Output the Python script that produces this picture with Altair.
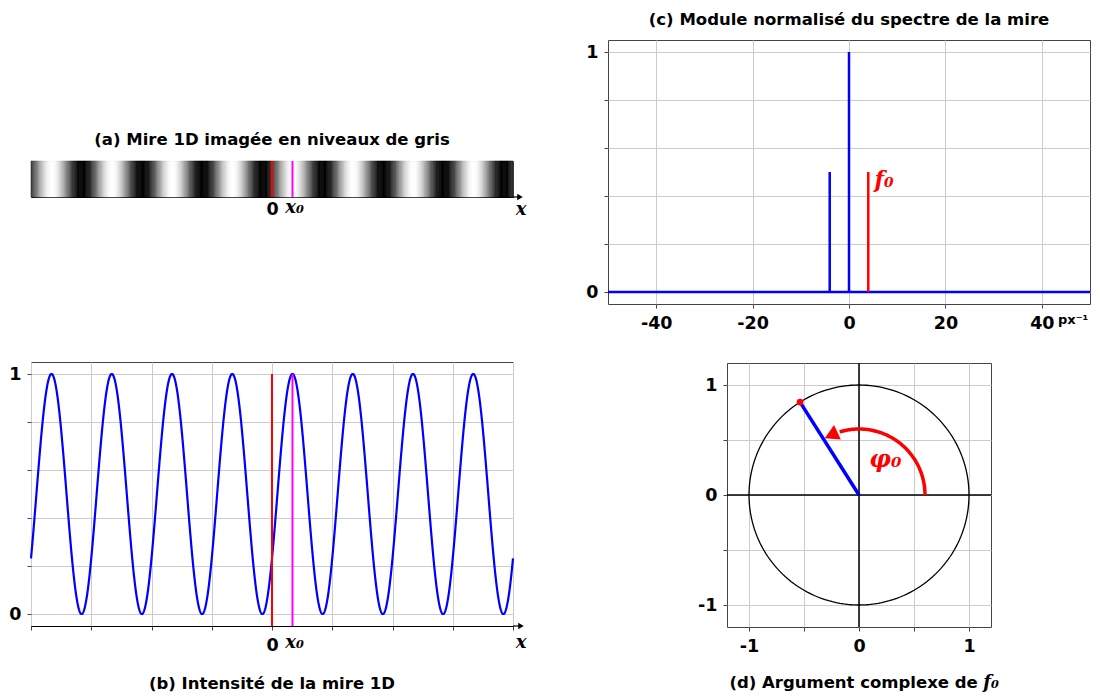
import altair as alt
import pandas as pd

# ---------------- values ----------------
# (a)/(b) 1D sinusoidal test pattern, abscissa in grid units (8 periods visible)
X_MIN, X_MAX = -4, 4
PERIOD = [1.0]
X0 = [0.34]                       # first maximum right of the origin
GRID_X = [-4, -3, -2, -1, 0, 1, 2, 3, 4]
GRID_I = [0, 0.2, 0.4, 0.6, 0.8, 1]
MARK_X = [0.0, 0.34]              # 0 and x0
MARK_COL = ["#ff0000", "#ff00ff"]

# (c) normalised modulus of the spectrum
FREQ = [-4, 0, 4]
AMP = [0.5, 1.0, 0.5]
FREQ_COL = ["#0000ff", "#0000ff", "#ff0000"]
FREQ_TICKS = [-40, -20, 0, 20, 40]
F_MIN, F_MAX = -50, 50
F0_LABEL_POS = [5.3, 0.466]

# (d) complex argument of f0
PHI0_DEG = [122.4]
ARC_R = [0.6]
ARC_END_DEG = [107]
ARROW_DEG = [115]
D_TICKS = [-1, -0.5, 0, 0.5, 1]
D_MIN, D_MAX = -1.2, 1.2
PHI_LABEL_POS = [0.24, 0.32]

# ---------------- style ----------------
BLUE, RED = "#0000ff", "#ff0000"
FONT, MATH = "DejaVu Sans", "DejaVu Serif"
FRAME, GRID = "#444444", "#cccccc"
W, H, H_A, W_D = 482, 264, 36, 264
TITLE_SIZE, LABEL_SIZE = 16.5, 17.5

SP_TOP, SP_AB, SP_CD, SP_LR, W_SP = 90, 141, 29, 58, 88

INTENSITY = f"0.5 + 0.5*cos(2*PI*(datum.x - {X0[0]})/{PERIOD[0]})"


def lab_expr(vals):
    conds = " : ".join([f"datum.value=={v} ? '{v}'" for v in vals])
    return conds + " : ''"


def math_text(**kw):
    base = dict(font=MATH, fontStyle="italic", fontWeight="bold", fontSize=18)
    base.update(kw)
    return base


# ---------------- (a) ----------------
xa = alt.Scale(domain=[X_MIN, X_MAX], nice=False, zero=False)
ya = alt.Scale(domain=[0, 1], nice=False, zero=False)
gray = alt.Scale(domain=[0, 1], range=["black", "white"], interpolate="rgb")
AX_A = alt.Axis(values=[0], labelExpr="'0'", ticks=False, grid=False, domain=True,
                domainColor="black", domainWidth=1.2, labelPadding=3, title=None)


def XA(f):
    return alt.X(f, type="quantitative", scale=xa, axis=AX_A)


def YA(f):
    return alt.Y(f, type="quantitative", scale=ya, axis=None)


a_strip = alt.Chart(alt.sequence(X_MIN, X_MAX, 0.02, as_="x")).transform_calculate(
    x2="datum.x + 0.02", y0="0", y1="1", I=INTENSITY
).mark_rect(strokeWidth=0.6).encode(
    x=XA("x"), x2="x2:Q", y=YA("y0"), y2="y1:Q",
    color=alt.Color("I:Q", scale=gray, legend=None),
    stroke=alt.Stroke("I:Q", scale=gray, legend=None),
)
marks_df = pd.DataFrame({"x": MARK_X, "col": MARK_COL})
a_marks = alt.Chart(marks_df).mark_rule(strokeWidth=2).encode(
    x=XA("x"), color=alt.Color("col:N", scale=None))

end_a = pd.DataFrame({"x": [X_MAX], "y": [0.0], "t": ["x"]})
a_arrow = alt.Chart(end_a).mark_rule(color="black", strokeWidth=1.2, x2Offset=8).encode(
    x=XA("x"), x2="x:Q", y=YA("y"))
a_head = alt.Chart(end_a).mark_point(shape="triangle-right", filled=True, size=40, color="black",
                                     opacity=1, xOffset=7).encode(x=XA("x"), y=YA("y"))
a_xlab = alt.Chart(end_a).mark_text(**math_text(baseline="top", dx=8, dy=4)).encode(
    x=XA("x"), y=YA("y"), text="t:N")
x0_a = pd.DataFrame({"x": [X0[0]], "y": [0.0], "t": ["x₀"]})
a_x0 = alt.Chart(x0_a).mark_text(**math_text(baseline="top", dx=2, dy=2)).encode(
    x=XA("x"), y=YA("y"), text="t:N")

chart_a = alt.layer(a_strip, a_marks, a_arrow, a_head, a_xlab, a_x0).properties(
    width=W, height=H_A,
    title=alt.TitleParams("(a) Mire 1D imagée en niveaux de gris", offset=12, frame="group", anchor="middle"))

# ---------------- (b) ----------------
yb = alt.Scale(domain=[-0.05, 1.05], nice=False, zero=False)
AX_BX = alt.Axis(values=GRID_X, labelExpr="datum.value==0 ? '0' : ''", grid=True, domain=True,
                 domainColor="black", domainWidth=1.2, title=None)
AX_BY = alt.Axis(values=GRID_I, labelExpr=lab_expr([0, 1]), grid=True, domain=False, title=None)


def XB(f):
    return alt.X(f, type="quantitative", scale=xa, axis=AX_BX)


def YB(f):
    return alt.Y(f, type="quantitative", scale=yb, axis=AX_BY)


b_curve = alt.Chart(alt.sequence(X_MIN, X_MAX + 0.001, 0.005, as_="x")).transform_calculate(
    I=INTENSITY
).mark_line(color=BLUE, strokeWidth=2.2).encode(x=XB("x"), y=YB("I"))
rules_b = pd.DataFrame({"x": MARK_X, "col": MARK_COL, "top": [1.0, 1.0], "bot": [-0.05, -0.05]})
b_marks = alt.Chart(rules_b).mark_rule(strokeWidth=2).encode(
    x=XB("x"), y=YB("top"), y2="bot:Q", color=alt.Color("col:N", scale=None))
end_b = pd.DataFrame({"x": [X_MAX], "y": [-0.05], "t": ["x"]})
b_arrow = alt.Chart(end_b).mark_rule(color="black", strokeWidth=1.2, x2Offset=9).encode(
    x=XB("x"), x2="x:Q", y=YB("y"))
b_head = alt.Chart(end_b).mark_point(shape="triangle-right", filled=True, size=40, color="black",
                                     opacity=1, xOffset=8).encode(x=XB("x"), y=YB("y"))
b_xlab = alt.Chart(end_b).mark_text(**math_text(baseline="top", dx=8, dy=8)).encode(
    x=XB("x"), y=YB("y"), text="t:N")
x0_b = pd.DataFrame({"x": [X0[0]], "y": [-0.05], "t": ["x₀"]})
b_x0 = alt.Chart(x0_b).mark_text(**math_text(baseline="top", dx=2, dy=8)).encode(
    x=XB("x"), y=YB("y"), text="t:N")

chart_b = alt.layer(b_curve, b_marks, b_arrow, b_head, b_xlab, b_x0).properties(
    width=W, height=H,
    title=alt.TitleParams("(b) Intensité de la mire 1D", orient="bottom", offset=22, frame="group",
                          anchor="middle"))

# ---------------- (c) ----------------
xc = alt.Scale(domain=[F_MIN, F_MAX], nice=False, zero=False)
yc = alt.Scale(domain=[-0.05, 1.05], nice=False, zero=False)
AX_CX = alt.Axis(values=FREQ_TICKS, labelExpr="datum.value + ''", grid=True, domain=False, title=None)
AX_CY = alt.Axis(values=GRID_I, labelExpr=lab_expr([0, 1]), grid=True, domain=False, title=None)


def XC(f):
    return alt.X(f, type="quantitative", scale=xc, axis=AX_CX)


def YC(f):
    return alt.Y(f, type="quantitative", scale=yc, axis=AX_CY)


c_base = alt.Chart(pd.DataFrame({"y": [0.0]})).mark_rule(color=BLUE, strokeWidth=2.5).encode(y=YC("y"))
spec_df = pd.DataFrame({"f": FREQ, "a": AMP, "col": FREQ_COL, "z": [0.0] * len(FREQ)})
c_spikes = alt.Chart(spec_df).mark_rule(strokeWidth=2.5).encode(
    x=XC("f"), y=YC("z"), y2="a:Q", color=alt.Color("col:N", scale=None))
f0_df = pd.DataFrame({"x": [F0_LABEL_POS[0]], "y": [F0_LABEL_POS[1]], "t": ["f₀"]})
c_f0 = alt.Chart(f0_df).mark_text(**math_text(align="left", baseline="middle", fontSize=22, color=RED)).encode(
    x=XC("x"), y=YC("y"), text="t:N")
unit_df = pd.DataFrame({"x": [F_MAX], "y": [-0.05], "t": ["px⁻¹"]})
c_unit = alt.Chart(unit_df).mark_text(font=FONT, fontWeight="bold", fontSize=13, align="left",
                                      baseline="top", dx=-32, dy=10, color="black").encode(
    x=XC("x"), y=YC("y"), text="t:N")

chart_c = alt.layer(c_base, c_spikes, c_f0, c_unit).properties(
    width=W, height=H,
    title=alt.TitleParams("(c) Module normalisé du spectre de la mire", offset=12, frame="group",
                          anchor="middle"))

# ---------------- (d) ----------------
xd = alt.Scale(domain=[D_MIN, D_MAX], nice=False, zero=False)
yd = alt.Scale(domain=[D_MIN, D_MAX], nice=False, zero=False)
AX_D = alt.Axis(values=D_TICKS, labelExpr=lab_expr([-1, 0, 1]), grid=True, domain=False, title=None)


def XD(f):
    return alt.X(f, type="quantitative", scale=xd, axis=AX_D)


def YD(f):
    return alt.Y(f, type="quantitative", scale=yd, axis=AX_D)


d_circle = alt.Chart(alt.sequence(0, 362, 2, as_="t")).transform_calculate(
    cx="cos(datum.t*PI/180)", cy="sin(datum.t*PI/180)"
).mark_line(color="black", strokeWidth=1.3).encode(x=XD("cx"), y=YD("cy"), order="t:Q")
zero_df = pd.DataFrame({"v": [0.0]})
d_vax = alt.Chart(zero_df).mark_rule(color="black", strokeWidth=1.5).encode(x=XD("v"))
d_hax = alt.Chart(zero_df).mark_rule(color="black", strokeWidth=1.5).encode(y=YD("v"))
phi_df = pd.DataFrame({"phi": PHI0_DEG})
d_vec = alt.Chart(phi_df).transform_calculate(
    ex="cos(datum.phi*PI/180)", ey="sin(datum.phi*PI/180)", o="0"
).mark_rule(color=BLUE, strokeWidth=3.5).encode(x=XD("o"), y=YD("o"), x2="ex:Q", y2="ey:Q")
d_dot = alt.Chart(phi_df).transform_calculate(
    ex="cos(datum.phi*PI/180)", ey="sin(datum.phi*PI/180)"
).mark_point(filled=True, color=RED, size=45, opacity=1).encode(x=XD("ex"), y=YD("ey"))
d_arc = alt.Chart(alt.sequence(0, ARC_END_DEG[0] + 1, 1, as_="t")).transform_calculate(
    ax=f"{ARC_R[0]}*cos(datum.t*PI/180)", ay=f"{ARC_R[0]}*sin(datum.t*PI/180)"
).mark_line(color=RED, strokeWidth=3.5).encode(x=XD("ax"), y=YD("ay"), order="t:Q")
head_df = pd.DataFrame({"t": ARROW_DEG})
d_head = alt.Chart(head_df).transform_calculate(
    ax=f"{ARC_R[0]}*cos(datum.t*PI/180)", ay=f"{ARC_R[0]}*sin(datum.t*PI/180)"
).mark_point(shape="triangle-up", filled=True, size=260, color=RED, opacity=1,
             angle=360 - ARROW_DEG[0]).encode(x=XD("ax"), y=YD("ay"))
phil_df = pd.DataFrame({"x": [PHI_LABEL_POS[0]], "y": [PHI_LABEL_POS[1]], "t": ["φ₀"]})
d_phi = alt.Chart(phil_df).mark_text(**math_text(align="center", baseline="middle", fontSize=24, color=RED)).encode(
    x=XD("x"), y=YD("y"), text="t:N")
dt_df = pd.DataFrame({"x": [1.08, 1.13], "y": [D_MIN, D_MIN], "t": ["(d) Argument complexe de", "f₀"]})
d_t1 = alt.Chart(dt_df.iloc[[0]]).mark_text(font=FONT, fontWeight="bold", fontSize=TITLE_SIZE, align="right",
                                            baseline="middle", dy=56, color="black").encode(
    x=XD("x"), y=YD("y"), text="t:N")
d_t2 = alt.Chart(dt_df.iloc[[1]]).mark_text(**math_text(align="left", baseline="middle", dy=56, fontSize=18)).encode(
    x=XD("x"), y=YD("y"), text="t:N")

chart_d = alt.layer(d_circle, d_vax, d_hax, d_arc, d_head, d_vec, d_dot, d_phi, d_t1, d_t2).properties(
    width=W_D, height=W_D)


# ---------------- layout ----------------
def spacer(w, h):
    return alt.Chart(pd.DataFrame({"v": [0.5]})).mark_point(opacity=0, size=1).encode(
        x=alt.X("v:Q", axis=None, scale=alt.Scale(domain=[0, 1])),
        y=alt.Y("v:Q", axis=None, scale=alt.Scale(domain=[0, 1])),
    ).properties(width=w, height=h, view=alt.ViewBackground(stroke="transparent"))


left = alt.vconcat(spacer(1, SP_TOP), alt.vconcat(chart_a, chart_b, spacing=SP_AB), spacing=0)
right = alt.vconcat(chart_c, alt.hconcat(spacer(W_SP, 1), chart_d, spacing=0), spacing=SP_CD)

chart = alt.hconcat(left, right, spacing=SP_LR).properties(
    padding={"left": 0, "top": 3, "right": 0, "bottom": 0}
).configure_view(
    stroke=FRAME, strokeWidth=1
).configure_axis(
    labelFont=FONT, labelFontSize=LABEL_SIZE, labelFontWeight="bold", labelColor="black",
    tickColor=FRAME, tickSize=4, gridColor=GRID, gridWidth=1, labelFlush=False,
    labelOverlap=False, labelPadding=6
).configure_title(
    font=FONT, fontSize=TITLE_SIZE, fontWeight="bold", color="black"
)

chart.save("out.html", embed_options={"renderer": "svg", "actions": False})
